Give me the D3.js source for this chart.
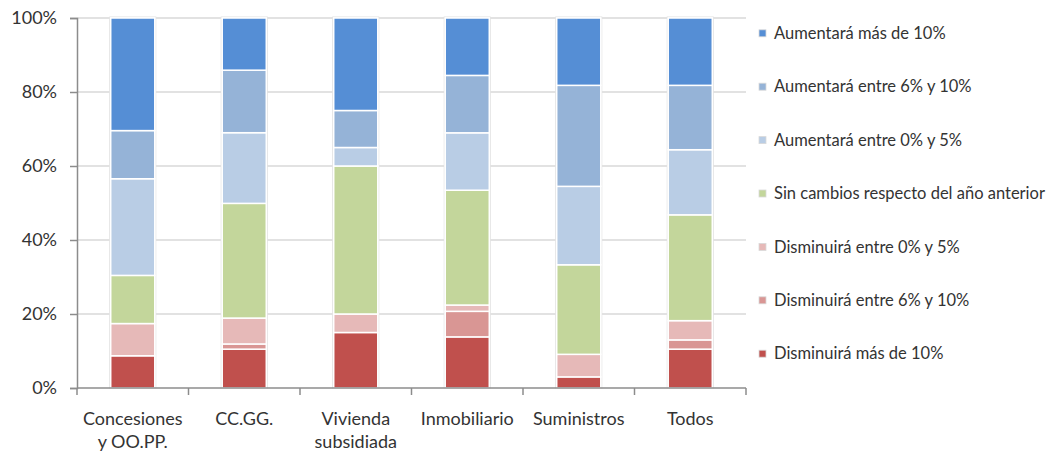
<!DOCTYPE html>
<html>
<head>
<meta charset="utf-8">
<script src="https://cdn.jsdelivr.net/npm/d3@7"></script>
<style>
  html, body { margin: 0; padding: 0; background: #fff; }
  svg text { font-family: Lato, "Open Sans", sans-serif; fill: #333; }
</style>
</head>
<body>
<svg id="chart" width="1054" height="451"></svg>
<script>
// Categories along the x axis
const categories = ["Concesiones\ny OO.PP.", "CC.GG.", "Vivienda\nsubsidiada", "Inmobiliario", "Suministros", "Todos"];

// Series, stacked bottom to top (share of answers, %)
const disminuiraMas10   = [8.7, 10.5, 15.0, 13.8, 3.0, 10.5];
const disminuira6a10    = [0.0, 1.4, 0.0, 6.9, 0.0, 2.5];
const disminuira0a5     = [8.7, 7.0, 5.0, 1.7, 6.1, 5.2];
const sinCambios        = [13.0, 31.0, 40.0, 31.0, 24.2, 28.6];
const aumentara0a5      = [26.1, 19.1, 5.0, 15.5, 21.2, 17.6];
const aumentara6a10     = [13.0, 16.9, 10.0, 15.5, 27.3, 17.4];
const aumentaraMas10    = [30.4, 14.1, 25.0, 15.5, 18.2, 18.2];

const seriesNames = [
  "Disminuirá más de 10%",
  "Disminuirá entre 6% y 10%",
  "Disminuirá entre 0% y 5%",
  "Sin cambios respecto del año anterior",
  "Aumentará entre 0% y 5%",
  "Aumentará entre 6% y 10%",
  "Aumentará más de 10%"
];
const seriesValues = [disminuiraMas10, disminuira6a10, disminuira0a5, sinCambios, aumentara0a5, aumentara6a10, aumentaraMas10];
const seriesColors = ["#C0504D", "#D99694", "#E6B9B8", "#C3D69B", "#B9CDE5", "#95B3D7", "#558ED5"];

const yTicks = [0, 0.2, 0.4, 0.6, 0.8, 1.0];

// Table for d3.stack
const rows = categories.map((c, i) => {
  const r = { category: c };
  seriesNames.forEach((s, j) => r[s] = seriesValues[j][i]);
  return r;
});

const svg = d3.select("#chart");
const plot = { left: 77, right: 746, top: 18, bottom: 388 };

const x = d3.scaleBand()
  .domain(categories)
  .range([plot.left, plot.right])
  .paddingInner(0.605)
  .paddingOuter(0.3025);

const y = d3.scaleLinear().domain([0, 1]).range([plot.bottom, plot.top]);

const stacked = d3.stack()
  .keys(seriesNames)
  .offset(d3.stackOffsetExpand)(rows);

const color = d3.scaleOrdinal().domain(seriesNames).range(seriesColors);

// Horizontal gridlines
svg.append("g")
  .selectAll("line")
  .data(yTicks.filter(t => t > 0))
  .join("line")
  .attr("x1", plot.left).attr("x2", plot.right)
  .attr("y1", d => y(d)).attr("y2", d => y(d))
  .attr("stroke", "#d9d9d9")
  .attr("stroke-width", 1.6);

// Stacked bars
const barGroup = svg.append("g");
barGroup.selectAll("rect.outline")
  .data(categories)
  .join("rect")
  .attr("class", "outline")
  .attr("x", d => x(d) - 1)
  .attr("width", x.bandwidth() + 2)
  .attr("y", y(1) - 1)
  .attr("height", y(0) - y(1) + 1)
  .attr("fill", "#fff")
  .attr("stroke", "#e2e2e2")
  .attr("stroke-width", 1);

barGroup.selectAll("g.series")
  .data(stacked)
  .join("g")
  .attr("class", "series")
  .attr("fill", d => color(d.key))
  .selectAll("rect")
  .data(d => d.filter(p => p[1] - p[0] > 0))
  .join("rect")
  .attr("x", d => x(d.data.category))
  .attr("width", x.bandwidth())
  .attr("y", d => y(d[1]))
  .attr("height", d => y(d[0]) - y(d[1]))
  .attr("stroke", "#fff")
  .attr("stroke-width", 1.5);

// Y axis
const yAxis = svg.append("g")
  .attr("transform", `translate(${plot.left},0)`)
  .call(d3.axisLeft(y).tickValues(yTicks).tickFormat(d3.format(".0%")).tickSize(7).tickPadding(13));
yAxis.select(".domain").attr("stroke", "#8c8c8c").attr("stroke-width", 1.5);
yAxis.selectAll(".tick line").attr("stroke", "#8c8c8c").attr("stroke-width", 1.5);
yAxis.selectAll(".tick text").style("font-size", "18px").style("font-family", "Lato, sans-serif").attr("fill", "#333");

// X axis: baseline and ticks at category boundaries
const xAxis = svg.append("g");
xAxis.append("line")
  .attr("x1", plot.left).attr("x2", plot.right)
  .attr("y1", plot.bottom).attr("y2", plot.bottom)
  .attr("stroke", "#8c8c8c").attr("stroke-width", 1.5);
const boundaries = categories.map(c => x(c) - x.step() * x.paddingInner() / 2).concat([plot.right]);
xAxis.selectAll("line.tick")
  .data(boundaries)
  .join("line")
  .attr("class", "tick")
  .attr("x1", d => d).attr("x2", d => d)
  .attr("y1", plot.bottom).attr("y2", plot.bottom + 7)
  .attr("stroke", "#8c8c8c").attr("stroke-width", 1.5);

xAxis.selectAll("text")
  .data(categories)
  .join("text")
  .attr("text-anchor", "middle")
  .attr("x", d => x(d) + x.bandwidth() / 2)
  .attr("y", 425)
  .style("font-size", "18px")
  .each(function (d) {
    const t = d3.select(this);
    d.split("\n").forEach((line, i) => {
      t.append("tspan")
        .attr("x", x(d) + x.bandwidth() / 2)
        .attr("dy", i === 0 ? 0 : 23)
        .text(line);
    });
  });

// Legend, top item is the last stacked series
const legendItems = seriesNames.slice().reverse();
const legend = svg.append("g")
  .selectAll("g")
  .data(legendItems)
  .join("g")
  .attr("transform", (d, i) => `translate(759, ${33.3 + i * 53.4})`);
legend.append("rect")
  .attr("x", 0).attr("y", -3.5)
  .attr("width", 7).attr("height", 7)
  .attr("fill", d => color(d))
  .attr("stroke", "#d9d9d9")
  .attr("stroke-width", 0.8);
legend.append("text")
  .attr("x", 15)
  .attr("y", 0)
  .attr("dy", "0.35em")
  .style("font-size", "16.5px")
  .text(d => d);
</script>
</body>
</html>
